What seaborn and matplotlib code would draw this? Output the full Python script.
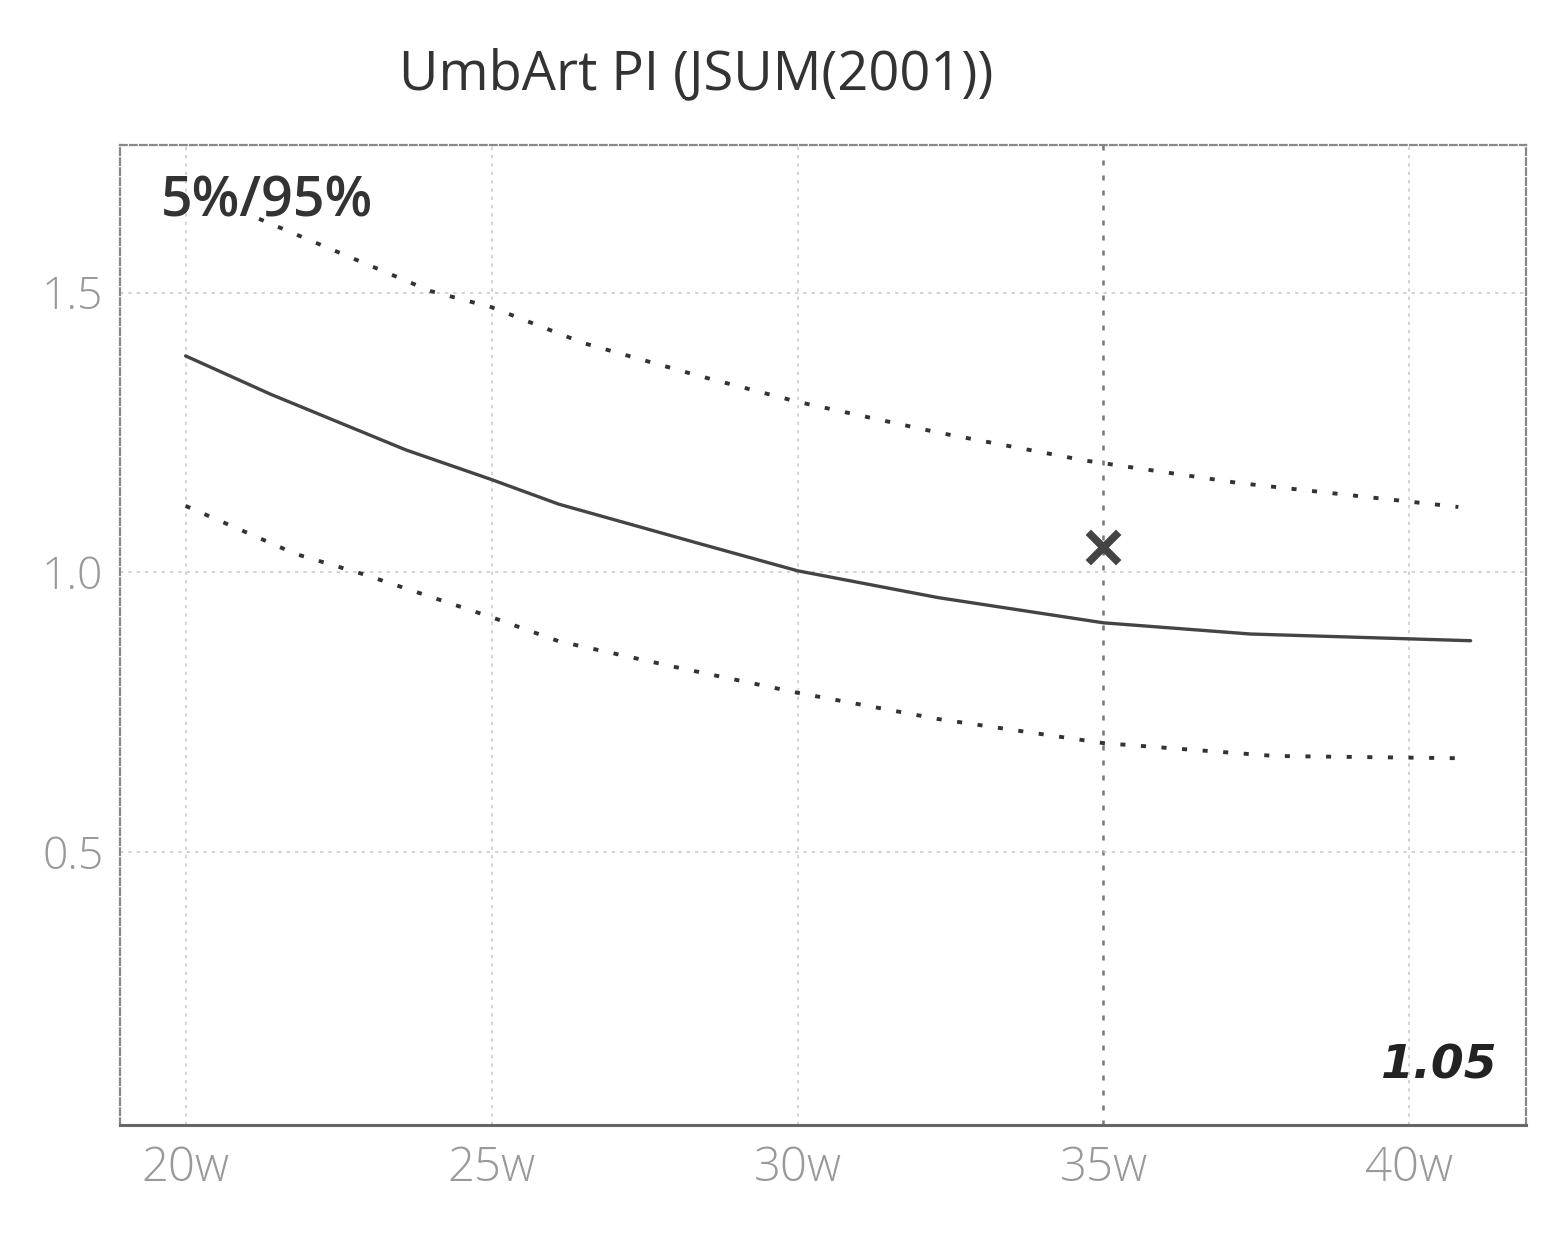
import pandas as pd
import matplotlib
matplotlib.use("Agg")
import matplotlib.pyplot as plt
import seaborn as sns

# Werte
weeks_mid = [20, 21.4, 23.6, 25, 26.1, 28.35, 30, 32.3, 35, 37.4, 41]
median = [1.387, 1.318, 1.219, 1.166, 1.122, 1.053, 1.003, 0.955, 0.91, 0.89, 0.878]

weeks_p95 = [21.2, 24.0, 25, 26.5, 28.4, 30, 32.3, 34.7, 37.2, 40.8]
p95 = [1.632, 1.503, 1.474, 1.41, 1.351, 1.305, 1.25, 1.2, 1.16, 1.117]

weeks_p5 = [20, 21.8, 22.9, 25, 26.1, 28, 30, 32.3, 35, 37.8, 40.8]
p5 = [1.119, 1.033, 0.997, 0.92, 0.877, 0.831, 0.785, 0.738, 0.695, 0.672, 0.668]

x_ticks = [20, 25, 30, 35, 40]
x_labels = ["20w", "25w", "30w", "35w", "40w"]
y_ticks = [0.5, 1.0, 1.5]
y_labels = ["0.5", "1.0", "1.5"]

case_week = 35
case_value = 1.045
case_label = "1.05"
title = "UmbArt PI (JSUM(2001))"

sns.set_theme(style="white")
plt.rcParams["font.family"] = ["Open Sans", "DejaVu Sans"]

fig = plt.figure(figsize=(15.6, 12.39), dpi=100)
ax = fig.add_axes([0.077, 0.092, 0.901, 0.791])

df_mid = pd.DataFrame({"week": weeks_mid, "value": median})
df_hi = pd.DataFrame({"week": weeks_p95, "value": p95})
df_lo = pd.DataFrame({"week": weeks_p5, "value": p5})

sns.lineplot(data=df_mid, x="week", y="value", ax=ax, color="#444444", linewidth=2.4)
sns.lineplot(data=df_hi, x="week", y="value", ax=ax, color="#333333", linewidth=2.8,
             linestyle=(0, (1.3, 4)))
sns.lineplot(data=df_lo, x="week", y="value", ax=ax, color="#333333", linewidth=2.8,
             linestyle=(0, (1.3, 4)))

# Gitter
for xt in x_ticks:
    if xt == case_week:
        ax.axvline(xt, color="#777777", linewidth=1.8, linestyle=(0, (2, 4)), zorder=0)
    else:
        ax.axvline(xt, color="#cccccc", linewidth=1.2, linestyle=(0, (2, 3)), zorder=0)
for yt in y_ticks:
    ax.axhline(yt, color="#cccccc", linewidth=1.2, linestyle=(0, (2, 3)), zorder=0)

ax.scatter([case_week], [case_value], marker="x", s=480, color="#444444", linewidths=5.5, zorder=5)

ax.set_xlim(18.93, 41.9)
ax.set_ylim(0.0125, 1.764)
ax.set_xticks(x_ticks)
ax.set_xticklabels(x_labels)
ax.set_yticks(y_ticks)
ax.set_yticklabels(y_labels)
ax.set_xlabel("")
ax.set_ylabel("")
ax.tick_params(axis="y", labelsize=32, labelcolor="#999999", length=0, pad=12)
ax.tick_params(axis="x", labelsize=34, labelcolor="#999999", length=0, pad=14)
for lab in ax.get_xticklabels() + ax.get_yticklabels():
    lab.set_fontweight("light")

for side in ["left", "right", "top", "bottom"]:
    ax.spines[side].set_color("#888888")
    ax.spines[side].set_linewidth(1.6)
    ax.spines[side].set_linestyle((0, (3, 1.5)))
ax.spines["bottom"].set_linestyle("-")
ax.spines["bottom"].set_color("#666666")
ax.spines["bottom"].set_linewidth(2.2)

ax.text(0.029, 0.97, "5%/95%", transform=ax.transAxes, fontsize=40,
        fontweight="semibold", color="#333333", ha="left", va="top")
ax.text(0.98, 0.037, case_label, transform=ax.transAxes, fontsize=34,
        fontstyle="italic", fontweight="bold", color="#222222", ha="right", va="bottom",
        family=["DejaVu Sans"])

fig.text(0.446, 0.94, title, fontsize=39, fontweight="medium", color="#333333",
         ha="center", va="center")

fig.savefig("out.png", dpi=100)
